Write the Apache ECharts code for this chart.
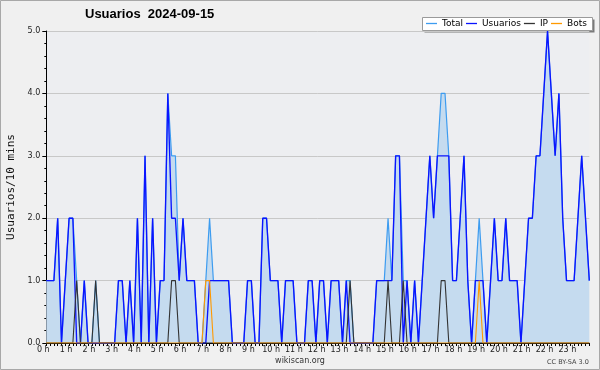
<!DOCTYPE html>
<html>
<head>
<meta charset="utf-8">
<script src="https://cdn.jsdelivr.net/npm/echarts@6/dist/echarts.min.js"></script>
<style>
  html, body { margin: 0; padding: 0; background: #f0f0f0; }
  #chart { width: 600px; height: 370px; }
</style>
</head>
<body>
<div id="chart"></div>
<script>
// one value every 10 minutes, 144 slots = 24 h
const slotsPerHour = 6;
const hourLabels = Array.from({ length: 24 }, (_, h) => h + ' h');

const total = [
  1,1,1,2,0,1,2,2,1,0,1,0,0,1,0,0,0,0,0,1,1,0,1,0,
  2,0,3,0,2,0,1,1,4,3,3,1,2,1,1,1,0,0,1,2,1,1,1,1,
  1,0,0,0,0,1,1,0,0,2,2,1,1,1,0,1,1,1,0,0,0,1,1,0,
  1,1,0,1,1,1,0,1,1,0,0,0,0,0,0,1,1,1,2,1,3,3,1,1,
  0,1,0,1,2,3,2,3,4,4,3,1,1,2,3,1,0,1,2,1,0,1,2,1,
  1,2,1,1,1,0,1,2,2,3,3,4,5,4,3,4,2,1,1,1,2,3,2,1
];
const usuarios = [
  1,1,1,2,0,1,2,2,0,0,1,0,0,0,0,0,0,0,0,1,1,0,1,0,
  2,0,3,0,2,0,1,1,4,2,2,1,2,1,1,1,0,0,0,1,1,1,1,1,
  1,0,0,0,0,1,1,0,0,2,2,1,1,1,0,1,1,1,0,0,0,1,1,0,
  1,1,0,1,1,1,0,1,0,0,0,0,0,0,0,1,1,1,1,1,3,3,0,1,
  0,1,0,1,2,3,2,3,3,3,3,1,1,2,3,1,0,1,1,1,0,1,2,1,
  1,2,1,1,1,0,1,2,2,3,3,4,5,4,3,4,2,1,1,1,2,3,2,1
];
const ip = [
  0,0,0,0,0,0,0,0,1,0,0,0,0,1,0,0,0,0,0,0,0,0,0,0,
  0,0,0,0,0,0,0,0,0,1,1,0,0,0,0,0,0,0,0,0,0,0,0,0,
  0,0,0,0,0,0,0,0,0,0,0,0,0,0,0,0,0,0,0,0,0,0,0,0,
  0,0,0,0,0,0,0,0,1,0,0,0,0,0,0,0,0,0,1,0,0,0,1,0,
  0,0,0,0,0,0,0,0,1,1,0,0,0,0,0,0,0,0,0,0,0,0,0,0,
  0,0,0,0,0,0,0,0,0,0,0,0,0,0,0,0,0,0,0,0,0,0,0,0
];
const bots = [
  0,0,0,0,0,0,0,0,0,0,0,0,0,0,0,0,0,0,0,0,0,0,0,0,
  0,0,0,0,0,0,0,0,0,0,0,0,0,0,0,0,0,0,1,1,0,0,0,0,
  0,0,0,0,0,0,0,0,0,0,0,0,0,0,0,0,0,0,0,0,0,0,0,0,
  0,0,0,0,0,0,0,0,0,0,0,0,0,0,0,0,0,0,0,0,0,0,0,0,
  0,0,0,0,0,0,0,0,0,0,0,0,0,0,0,0,0,0,1,0,0,0,0,0,
  0,0,0,0,0,0,0,0,0,0,0,0,0,0,0,0,0,0,0,0,0,0,0,0
];

const pairs = arr => arr.map((v, i) => [i, v]);
const font = 'DejaVu Sans';

let myChart = echarts.init(document.getElementById('chart'), null, { renderer: 'canvas' });
myChart.setOption({
  animation: false,
  backgroundColor: '#f0f0f0',
  textStyle: { fontFamily: font },
  title: {
    text: 'Usuarios  2024-09-15',
    left: 85, top: 8, padding: 0,
    textStyle: { fontFamily: 'Liberation Sans', fontSize: 13, fontWeight: 'bold', color: '#000' }
  },
  legend: {
    left: 426, top: 19, padding: 0,
    icon: 'rect', itemWidth: 11, itemHeight: 1.3, itemGap: 3,
    textStyle: { fontFamily: font, fontSize: 9, color: '#000' },
    data: ['Total', 'Usuarios', 'IP', 'Bots']
  },
  graphic: [
    // picture frame
    { type: 'rect', z: 0, shape: { x: 0.5, y: 0.5, width: 599, height: 369 },
      style: { fill: 'none', stroke: '#a8a8a8', lineWidth: 1 } },
    // legend box with shadow
    { type: 'rect', z: 0, shape: { x: 424.5, y: 19.5, width: 170, height: 13 },
      style: { fill: '#7a7a7a' } },
    { type: 'rect', z: 1, shape: { x: 422.5, y: 17.5, width: 170, height: 13 },
      style: { fill: '#fff', stroke: '#9a9a9a', lineWidth: 1 } },
    { type: 'text', x: 300, y: 361,
      style: { text: 'wikiscan.org', font: '8px DejaVu Sans', fill: '#333',
               textAlign: 'center', textVerticalAlign: 'middle', align: 'center', verticalAlign: 'middle' } },
    { type: 'text', x: 568, y: 362,
      style: { text: 'CC BY-SA 3.0', font: '6.5px DejaVu Sans', fill: '#444',
               textAlign: 'center', textVerticalAlign: 'middle', align: 'center', verticalAlign: 'middle' } }
  ],
  grid: {
    left: 46.3, right: 10.7, top: 31, bottom: 27,
    show: true, backgroundColor: '#edeef1', borderWidth: 0,
    outerBoundsMode: 'none'
  },
  xAxis: {
    type: 'value', min: 0, max: 143, interval: 1,
    axisLine: { lineStyle: { color: '#000', width: 1 } },
    axisTick: { length: 3, lineStyle: { color: '#000' } },
    splitLine: { show: false },
    axisLabel: {
      formatter: v => (v % slotsPerHour === 0 ? hourLabels[v / slotsPerHour] : ''),
      fontFamily: font, fontSize: 8, color: '#222', margin: 3, padding: [0, 6, 0, 0]
    }
  },
  yAxis: {
    type: 'value', min: 0, max: 5, interval: 1,
    name: 'Usuarios/10 mins', nameLocation: 'middle', nameGap: 30, nameRotate: 90,
    nameTextStyle: { fontFamily: 'DejaVu Sans Mono', fontSize: 11, color: '#111' },
    axisLine: { show: true, lineStyle: { color: '#000' } },
    axisTick: { show: true, length: 4, lineStyle: { color: '#000' } },
    minorTick: { show: true, splitNumber: 5, length: 2, lineStyle: { color: '#000' } },
    splitLine: { lineStyle: { color: '#c8c8c8', width: 1 } },
    axisLabel: { formatter: v => v.toFixed(1), fontFamily: font, fontSize: 8, color: '#222', margin: 6 }
  },
  series: [
    {
      name: 'Total', type: 'line', symbol: 'none', data: pairs(total),
      lineStyle: { color: '#3d9cf0', width: 1.2 },
      itemStyle: { color: '#3d9cf0' },
      areaStyle: { color: '#c5dbef', opacity: 1 }
    },
    {
      name: 'Usuarios', type: 'line', symbol: 'none', data: pairs(usuarios),
      lineStyle: { color: '#0a14ff', width: 1.35 },
      itemStyle: { color: '#0a14ff' }
    },
    {
      name: 'IP', type: 'line', symbol: 'none', data: pairs(ip),
      lineStyle: { color: '#333333', width: 1.1 },
      itemStyle: { color: '#333333' }
    },
    {
      name: 'Bots', type: 'line', symbol: 'none', data: pairs(bots),
      lineStyle: { color: '#ff9900', width: 1.1 },
      itemStyle: { color: '#ff9900' }
    }
  ]
});
</script>
</body>
</html>
